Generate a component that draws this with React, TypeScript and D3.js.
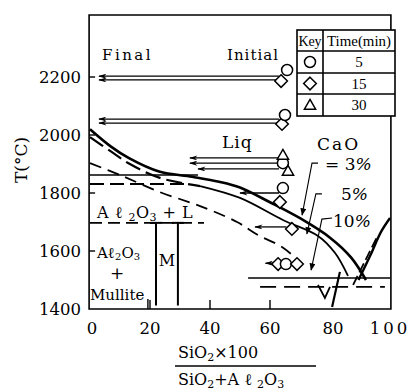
import React from 'react';
import * as d3 from 'd3';

// axis ticks
const xTicks = [0, 20, 40, 60, 80, 100];
const yTicks = [1400, 1600, 1800, 2000, 2200];

// liquidus, CaO = 3% (thick solid)
const liq3X = [0, 7, 13, 23, 34, 43, 50, 60, 70, 80, 87, 92];
const liq3T = [2020, 1960, 1920, 1874, 1856, 1839, 1819, 1768, 1713, 1646, 1578, 1500];

// CaO = 5%: dashed part, then solid part
const liq5DashX = [0, 6.7, 13.3, 23.3, 36.7];
const liq5DashT = [1993, 1945, 1900, 1852, 1824];
const liq5SolidX = [36.7, 50, 64.3, 76, 81.7, 86];
const liq5SolidT = [1824, 1783, 1707, 1652, 1593, 1514];

// CaO = 10% (dashed)
const liq10X = [0, 10, 23.3, 36.7, 49, 56, 64, 70];
const liq10T = [1903, 1862, 1803, 1755, 1700, 1655, 1614, 1562];

// SiO2-side pieces
const riseSolidX = [89.5, 93.5, 97, 100];
const riseSolidT = [1500, 1586, 1666, 1714];
const riseDashX = [87.7, 96];
const riseDashT = [1483, 1655];
const vX = [76, 78.3, 80];
const vT = [1483, 1438, 1476];
const stubX = [83.3, 80.7];
const stubT = [1528, 1407];

// isotherms
const isoSolid1 = { from: 0, to: 36, t: 1862 };
const isoDash1 = { from: 0, to: 32, t: 1831 };
const isoDash2 = { from: 0, to: 38, t: 1697 };
const isoSolid2 = { from: 52.7, to: 100, t: 1507 };
const isoDash3 = { from: 56.7, to: 98.3, t: 1476 };

// mullite field boundaries
const mulliteX = [22, 29.3];
const mulliteTop = 1697;
const mulliteBottom = 1412;

// composition-change arrows (initial -> final)
const arrowT = [2203, 2190, 2055, 2041, 1921, 1903, 1883, 1800, 1683, 1558];
const arrowFrom = [63, 63, 63, 63, 63, 63, 63, 63, 65.5, 61.5];
const arrowTo = [3, 3, 3, 3, 33.3, 33.3, 36, 50, 55, 58.5];

// specimen markers
const markerType = ['diamond', 'circle', 'diamond', 'circle', 'circle', 'triangle', 'triangle', 'diamond', 'circle', 'diamond', 'diamond', 'circle', 'diamond'];
const markerX = [63.7, 65.7, 64, 65, 64.3, 64.3, 66, 63.3, 64.3, 67.3, 62.7, 65.3, 69];
const markerT = [2186, 2224, 2038, 2069, 1903, 1931, 1876, 1769, 1817, 1676, 1555, 1555, 1555];

// CaO leaders
const lead3X = [76, 74, 70.7];
const lead3T = [1903, 1903, 1724];
const lead5X = [77.3, 75.3, 72.3];
const lead5T = [1797, 1797, 1659];
const lead10X = [80.7, 77.3, 73.7];
const lead10T = [1714, 1710, 1534];

// key table
const keySymbols = ['circle', 'diamond', 'triangle'];
const keyTimes = ['5', '15', '30'];

const serif = "'DejaVu Serif', 'Liberation Serif', serif";
const times = "'Liberation Serif', 'DejaVu Serif', serif";

const zip = (a: number[], b: number[]) => a.map((v, i) => [v, b[i]]);

const Symbol = ({ type, cx, cy, r }: { type: string; cx: number; cy: number; r: number }) => {
  if (type === 'circle') {
    return <circle cx={cx} cy={cy} r={r} fill="white" stroke="black" strokeWidth={1.5} />;
  }
  if (type === 'diamond') {
    const d = r * 1.15;
    return (
      <path
        d={`M${cx},${cy - d}L${cx + d},${cy}L${cx},${cy + d}L${cx - d},${cy}Z`}
        fill="white"
        stroke="black"
        strokeWidth={1.5}
      />
    );
  }
  const h = r * 1.7;
  return (
    <path
      d={`M${cx},${cy - h * 0.6}L${cx + h * 0.6},${cy + h * 0.45}L${cx - h * 0.6},${cy + h * 0.45}Z`}
      fill="white"
      stroke="black"
      strokeWidth={1.5}
    />
  );
};

export default function App() {
  const x = d3.scaleLinear().domain([0, 100]).range([90, 390]);
  const y = d3.scaleLinear().domain([1400, 2200]).range([309, 77]);

  const smooth = d3
    .line<number[]>()
    .x((d) => x(d[0]))
    .y((d) => y(d[1]))
    .curve(d3.curveCatmullRom.alpha(0.5));
  const poly = d3
    .line<number[]>()
    .x((d) => x(d[0]))
    .y((d) => y(d[1]));

  const left = x(-0.3);
  const right = x(100.3);
  const top = y(2414);
  const bottom = y(1400);

  const iso = (s: { from: number; to: number; t: number }) => poly([[s.from, s.t], [s.to, s.t]]) || '';

  // key table layout
  const kx0 = 297, kx1 = 323, kx2 = 395;
  const rowY = [30, 51, 73, 94, 116];

  return (
    <svg
      width={410}
      height={390}
      style={{ position: 'absolute', left: 0, top: 0, background: 'white' }}
    >
      <defs>
        <marker id="ahL" viewBox="0 0 10 6" refX={9} refY={3} markerWidth={9} markerHeight={5} markerUnits="userSpaceOnUse" orient="auto">
          <path d="M10,3L0,0L3,3L0,6Z" fill="black" />
        </marker>
        <marker id="ahD" viewBox="0 0 10 8" refX={9} refY={4} markerWidth={8} markerHeight={6} markerUnits="userSpaceOnUse" orient="auto">
          <path d="M0,0L10,4L0,8Z" fill="black" />
        </marker>
      </defs>

      {/* frame */}
      <path
        d={`M${left},${bottom}L${left},${top}L${right},${top}L${right},${bottom}Z`}
        fill="none"
        stroke="black"
        strokeWidth={1.6}
      />

      {/* ticks */}
      {yTicks.slice(1).map((t) => (
        <line key={t} x1={left} x2={left + 6} y1={y(t)} y2={y(t)} stroke="black" strokeWidth={1.4} />
      ))}
      {xTicks.slice(1, 4).map((v) => (
        <line key={v} x1={x(v)} x2={x(v)} y1={bottom} y2={bottom - 9} stroke="black" strokeWidth={1.4} />
      ))}

      {/* tick labels */}
      {yTicks.map((t) => (
        <text key={t} x={81} y={y(t) + 6} textAnchor="end" fontFamily={serif} fontSize={16.5}>
          {t}
        </text>
      ))}
      {xTicks.map((v) => (
        <text
          key={v}
          x={x(v) + (v === 0 ? 2 : v === 80 ? 3 : 0)}
          y={334}
          textAnchor="middle"
          fontFamily={serif}
          fontSize={16.5}
          letterSpacing={v === 100 ? 3 : 0}
        >
          {v}
        </text>
      ))}

      {/* axis titles */}
      <text
        transform="translate(27,160) rotate(-90)"
        textAnchor="middle"
        fontFamily={serif}
        fontSize={17}
      >
        T(°C)
      </text>
      <text x={178} y={358} fontFamily={serif} fontSize={16}>
        SiO<tspan fontSize={11} dy={3}>2</tspan>
        <tspan dy={-3}>×100</tspan>
      </text>
      <line x1={175} x2={316} y1={366} y2={366} stroke="black" strokeWidth={1.4} />
      <text x={178} y={385} fontFamily={serif} fontSize={16}>
        SiO<tspan fontSize={11} dy={3}>2</tspan>
        <tspan dy={-3}>+A ℓ </tspan>
        <tspan fontSize={11} dy={3}>2</tspan>
        <tspan dy={-3}>O</tspan>
        <tspan fontSize={11} dy={3}>3</tspan>
      </text>

      {/* isotherms */}
      <path d={iso(isoSolid1)} stroke="black" strokeWidth={1.6} fill="none" />
      <path d={iso(isoDash1)} stroke="black" strokeWidth={1.8} strokeDasharray="14,6" fill="none" />
      <path d={iso(isoDash2)} stroke="black" strokeWidth={1.8} strokeDasharray="12,6" fill="none" />
      <path d={iso(isoSolid2)} stroke="black" strokeWidth={1.6} fill="none" />
      <path d={iso(isoDash3)} stroke="black" strokeWidth={1.8} strokeDasharray="16,8" fill="none" />

      {/* mullite boundaries */}
      {mulliteX.map((v) => (
        <g key={v}>
          <line x1={x(v)} x2={x(v)} y1={y(mulliteTop)} y2={y(mulliteBottom)} stroke="black" strokeWidth={2} />
          <line x1={x(v) - 6} x2={x(v) + 6} y1={y(mulliteTop)} y2={y(mulliteTop)} stroke="black" strokeWidth={2} />
        </g>
      ))}
      <line x1={x(19.3)} x2={x(19.3)} y1={bottom} y2={bottom - 10} stroke="black" strokeWidth={1.4} />

      {/* liquidus curves */}
      <path d={smooth(zip(liq3X, liq3T)) || ''} stroke="black" strokeWidth={2.6} fill="none" />
      <path d={smooth(zip(liq5DashX, liq5DashT)) || ''} stroke="black" strokeWidth={2.2} strokeDasharray="16,6" fill="none" />
      <path d={smooth(zip(liq5SolidX, liq5SolidT)) || ''} stroke="black" strokeWidth={1.8} fill="none" />
      <path d={smooth(zip(liq10X, liq10T)) || ''} stroke="black" strokeWidth={1.8} strokeDasharray="12,7" fill="none" />
      <path d={smooth(zip(riseSolidX, riseSolidT)) || ''} stroke="black" strokeWidth={2.4} fill="none" />
      <path d={poly(zip(riseDashX, riseDashT)) || ''} stroke="black" strokeWidth={1.8} strokeDasharray="10,4" fill="none" />
      <path d={poly(zip(vX, vT)) || ''} stroke="black" strokeWidth={1.8} fill="none" />
      <path d={poly(zip(stubX, stubT)) || ''} stroke="black" strokeWidth={2.2} fill="none" />

      {/* leaders */}
      {[zip(lead3X, lead3T), zip(lead5X, lead5T), zip(lead10X, lead10T)].map((p, i) => (
        <path key={i} d={poly(p) || ''} stroke="black" strokeWidth={1.1} fill="none" markerEnd="url(#ahD)" />
      ))}

      {/* arrows */}
      {arrowT.map((t, i) => (
        <line
          key={i}
          x1={x(arrowFrom[i])}
          x2={x(arrowTo[i])}
          y1={y(t)}
          y2={y(t)}
          stroke="black"
          strokeWidth={1.3}
          markerEnd="url(#ahL)"
        />
      ))}

      {/* markers */}
      {markerType.map((m, i) => (
        <Symbol key={i} type={m} cx={x(markerX[i])} cy={y(markerT[i])} r={5.5} />
      ))}

      {/* field labels */}
      <text x={102} y={60} fontFamily={serif} fontSize={15} letterSpacing={2.5}>Final</text>
      <text x={227} y={60} fontFamily={serif} fontSize={15} letterSpacing={1}>Initial</text>
      <text x={222} y={148} fontFamily={serif} fontSize={17} letterSpacing={1}>Liq</text>
      <text x={317} y={150} fontFamily={serif} fontSize={17} letterSpacing={2}>CaO</text>
      <text x={325} y={170} fontFamily={serif} fontSize={17}>= 3<tspan fontStyle="italic">%</tspan></text>
      <text x={341} y={200} fontFamily={serif} fontSize={17}>5<tspan fontStyle="italic">%</tspan></text>
      <text x={333} y={227} fontFamily={serif} fontSize={17}>10<tspan fontStyle="italic">%</tspan></text>
      <text x={97} y={218} fontFamily={serif} fontSize={16} letterSpacing={0.5}>
        A ℓ <tspan fontSize={11} dy={3}>2</tspan>
        <tspan dy={-3}>O</tspan>
        <tspan fontSize={11} dy={3}>3</tspan>
        <tspan dy={-3}> + L</tspan>
      </text>
      <text x={97} y={258} fontFamily={serif} fontSize={15}>
        Aℓ<tspan fontSize={10} dy={2}>2</tspan>
        <tspan dy={-2}>O</tspan>
        <tspan fontSize={10} dy={2}>3</tspan>
      </text>
      <text x={117} y={279} textAnchor="middle" fontFamily={serif} fontSize={17}>+</text>
      <text x={90} y={300} fontFamily={serif} fontSize={15}>Mullite</text>
      <text x={167} y={266} textAnchor="middle" fontFamily={serif} fontSize={16}>M</text>

      {/* key table */}
      <rect x={kx0} y={rowY[0]} width={kx2 - kx0} height={rowY[4] - rowY[0]} fill="white" stroke="black" strokeWidth={1.6} />
      <line x1={kx1} x2={kx1} y1={rowY[0]} y2={rowY[4]} stroke="black" strokeWidth={1.6} />
      {rowY.slice(1, 4).map((ry) => (
        <line key={ry} x1={kx0} x2={kx2} y1={ry} y2={ry} stroke="black" strokeWidth={1.6} />
      ))}
      <text x={(kx0 + kx1) / 2} y={46} textAnchor="middle" fontFamily={times} fontSize={14} textLength={23}>Key</text>
      <text x={(kx1 + kx2) / 2} y={46} textAnchor="middle" fontFamily={times} fontSize={14} textLength={64} lengthAdjust="spacingAndGlyphs">Time(min)</text>
      {keySymbols.map((s, i) => (
        <g key={s}>
          <Symbol type={s} cx={(kx0 + kx1) / 2} cy={(rowY[i + 1] + rowY[i + 2]) / 2} r={5.5} />
          <text
            x={(kx1 + kx2) / 2}
            y={(rowY[i + 1] + rowY[i + 2]) / 2 + 5}
            textAnchor="middle"
            fontFamily={times}
            fontSize={15}
          >
            {keyTimes[i]}
          </text>
        </g>
      ))}
    </svg>
  );
}
